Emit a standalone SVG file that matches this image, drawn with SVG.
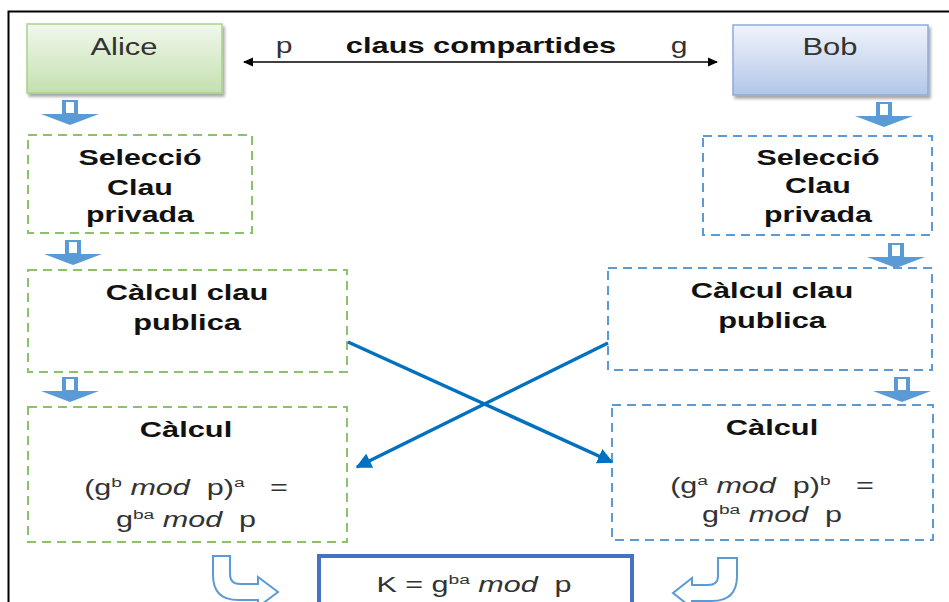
<svg xmlns="http://www.w3.org/2000/svg" width="949" height="602" viewBox="0 0 949 602">
<defs>
<linearGradient id="gA" x1="0" y1="0" x2="0" y2="1"><stop offset="0" stop-color="#f1f8ec"/><stop offset="1" stop-color="#c3e0ae"/></linearGradient>
<linearGradient id="gB" x1="0" y1="0" x2="0" y2="1"><stop offset="0" stop-color="#f0f4fb"/><stop offset="1" stop-color="#b2c6e8"/></linearGradient>
<filter id="sh" x="-10%" y="-10%" width="125%" height="130%"><feDropShadow dx="2" dy="3" stdDeviation="1.5" flood-color="#000" flood-opacity="0.35"/></filter>
<marker id="mk" viewBox="0 0 10 10" refX="9" refY="5" markerWidth="4.5" markerHeight="4.5" orient="auto"><path d="M0,0 L10,5 L0,10 Z" fill="#0070c0"/></marker>
<marker id="mb" viewBox="0 0 10 10" refX="9" refY="5" markerWidth="10" markerHeight="10" markerUnits="userSpaceOnUse" orient="auto-start-reverse"><path d="M0,0.5 L10,5 L0,9.5 Z" fill="#000"/></marker>
<g id="blk"><path d="M-8,0 H8 V14 H29 L0,25 L-29,14 H-8 Z" fill="#5b9bd5"/><rect x="-4" y="2" width="8" height="11" fill="#ffffff"/></g>
</defs>
<style>
.t{font-family:"Liberation Sans",Arial,sans-serif;text-anchor:middle;}
.b{font-weight:bold;font-size:22px;fill:#111;}
.r{font-size:21.5px;fill:#333;}
.n{font-size:24px;fill:#333;}
.sup{font-size:13.5px;}
.i{font-style:italic;}
.dg{fill:none;stroke:#8cc36a;stroke-width:2;stroke-dasharray:9 6;}
.db{fill:none;stroke:#5b9bd5;stroke-width:2;stroke-dasharray:9 6;}
.cx{stroke:#0070c0;stroke-width:3.5;fill:none;marker-end:url(#mk);}
.cu{fill:#fff;stroke:#5b9bd5;stroke-width:2;}
</style>
<rect width="949" height="602" fill="#fff"/>
<path d="M8.5,602 V11.5 H949" fill="none" stroke="#000" stroke-width="2"/>

<g id="alice">
<rect x="27" y="24" width="195" height="69" fill="url(#gA)" stroke="#a9d18e" stroke-width="1.5" filter="url(#sh)"/>
<text class="t n" transform="translate(124,55) scale(1.29,1)">Alice</text>
</g>
<g id="bob">
<rect x="733" y="25" width="195" height="70" fill="url(#gB)" stroke="#8eaadb" stroke-width="1.5" filter="url(#sh)"/>
<text class="t n" transform="translate(830,55) scale(1.29,1)">Bob</text>
</g>

<g id="shared">
<text class="t r" transform="translate(284,53) scale(1.4,1)">p</text>
<text class="t b" transform="translate(481,53) scale(1.4,1)">claus compartides</text>
<text class="t r" transform="translate(679,53) scale(1.4,1)">g</text>
</g>

<g id="a-sel">
<rect class="dg" x="28" y="135" width="224" height="98"/>
<text class="t b" transform="translate(140,165) scale(1.38,1)">Selecció</text>
<text class="t b" transform="translate(140,195) scale(1.38,1)">Clau</text>
<text class="t b" transform="translate(140,222) scale(1.38,1)">privada</text>
</g>
<g id="a-pub">
<rect class="dg" x="28" y="270" width="319" height="102"/>
<text class="t b" transform="translate(187,300) scale(1.4,1)">Càlcul clau</text>
<text class="t b" transform="translate(187,330) scale(1.4,1)">publica</text>
</g>
<g id="a-calc">
<rect class="dg" x="28" y="407" width="319" height="135"/>
<text class="t b" transform="translate(186,437) scale(1.4,1)">Càlcul</text>
<text class="t r" xml:space="preserve" transform="translate(186,495) scale(1.42,1)">(g<tspan class="sup" dy="-8">b</tspan><tspan dy="8"> </tspan><tspan class="i">mod</tspan>  p)<tspan class="sup" dy="-8">a</tspan><tspan dy="8">   =</tspan></text>
<text class="t r" xml:space="preserve" transform="translate(186,527) scale(1.42,1)">g<tspan class="sup" dy="-8">ba</tspan><tspan dy="8"> </tspan><tspan class="i">mod</tspan>  p</text>
</g>

<g id="b-sel">
<rect class="db" x="703" y="136" width="229" height="99"/>
<text class="t b" transform="translate(818,165) scale(1.38,1)">Selecció</text>
<text class="t b" transform="translate(818,193) scale(1.38,1)">Clau</text>
<text class="t b" transform="translate(818,222) scale(1.38,1)">privada</text>
</g>
<g id="b-pub">
<rect class="db" x="608" y="268" width="324" height="102"/>
<text class="t b" transform="translate(772,298) scale(1.4,1)">Càlcul clau</text>
<text class="t b" transform="translate(772,328) scale(1.4,1)">publica</text>
</g>
<g id="b-calc">
<rect class="db" x="612" y="405" width="321" height="135"/>
<text class="t b" transform="translate(772,435) scale(1.4,1)">Càlcul</text>
<text class="t r" xml:space="preserve" transform="translate(772,493) scale(1.42,1)">(g<tspan class="sup" dy="-8">a</tspan><tspan dy="8"> </tspan><tspan class="i">mod</tspan>  p)<tspan class="sup" dy="-8">b</tspan><tspan dy="8">   =</tspan></text>
<text class="t r" xml:space="preserve" transform="translate(772,522) scale(1.42,1)">g<tspan class="sup" dy="-8">ba</tspan><tspan dy="8"> </tspan><tspan class="i">mod</tspan>  p</text>
</g>

<g id="key">
<rect x="319" y="556" width="313" height="60" fill="#fff" stroke="#4472c4" stroke-width="4"/>
<text class="t r" xml:space="preserve" transform="translate(474,592) scale(1.42,1)">K = g<tspan class="sup" dy="-8">ba</tspan><tspan dy="8"> </tspan><tspan class="i">mod</tspan>  p</text>
</g>

<g id="connectors">
<line x1="244" y1="62" x2="717" y2="62" stroke="#000" stroke-width="1.5" marker-start="url(#mb)" marker-end="url(#mb)"/>
<use href="#blk" transform="translate(70,100)"/>
<use href="#blk" transform="translate(73,240)"/>
<use href="#blk" transform="translate(70,377)"/>
<use href="#blk" transform="translate(884,102)"/>
<use href="#blk" transform="translate(896,243)"/>
<use href="#blk" transform="translate(902,377)"/>
<line class="cx" x1="348" y1="342" x2="612" y2="462"/>
<line class="cx" x1="608" y1="343" x2="357" y2="467"/>
<path class="cu" d="M213,556 H230 V574 Q230,584 240,584 H258 V577 L278,592 L258,607 V600 H238 Q213,600 213,575 Z"/>
<path class="cu" d="M737,558 H718 V576 Q718,585 708,585 H692 V578 L673,593 L692,608 V601 H712 Q737,601 737,576 Z"/>
</g>
</svg>
